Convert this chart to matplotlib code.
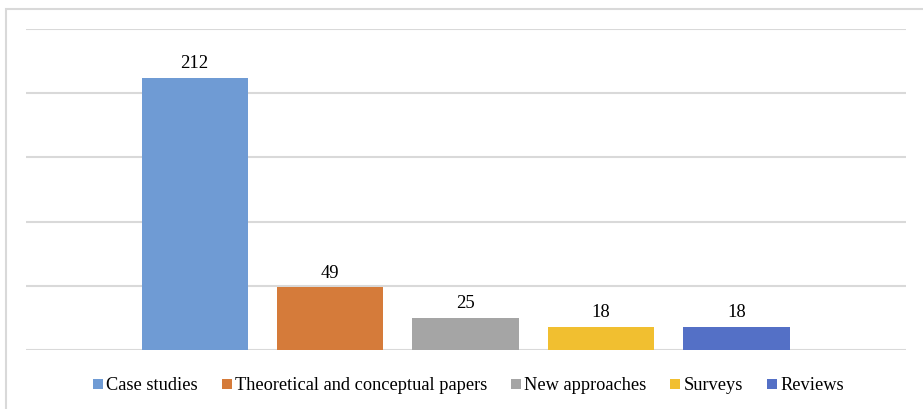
import matplotlib
matplotlib.use("Agg")
import matplotlib.pyplot as plt
from matplotlib.patches import Rectangle, Patch

categories = ["Case studies", "Theoretical and conceptual papers", "New approaches", "Surveys", "Reviews"]
counts = [212, 49, 25, 18, 18]
colors = ["#6F9BD4", "#D57B3A", "#A5A5A5", "#F1BF30", "#5470C6"]
y_ticks = [0, 50, 100, 150, 200, 250]

plt.rcParams["font.family"] = ["Liberation Serif", "DejaVu Serif"]

W, H = 923, 409
fig = plt.figure(figsize=(W / 100, H / 100), dpi=100)
ax = fig.add_axes([26 / W, (H - 350) / H, (906 - 26) / W, (350 - 29) / H])

x = list(range(len(categories)))
ax.bar(x, counts, width=0.785, color=colors, zorder=3)
for xi, v in zip(x, counts):
    ax.annotate(str(v), (xi, v), xytext=(0, 4), textcoords="offset points",
                ha="center", va="bottom", fontsize=13.4, color="#000000")

ax.set_xlim(-1.245, 5.25)
ax.set_ylim(0, 250)
ax.set_yticks(y_ticks)
ax.yaxis.grid(True, color="#D9D9D9", linewidth=1.5, zorder=0)
ax.set_xticks([])
ax.tick_params(axis="y", length=0, labelleft=False)
for s in ax.spines.values():
    s.set_visible(False)

handles = [Patch(facecolor=c, edgecolor="none") for c in colors]
fig.legend(handles, categories, loc="center", bbox_to_anchor=(468.5 / W, 1 - 386 / H),
           ncol=5, frameon=False, fontsize=13.2, handlelength=0.54, handleheight=0.54,
           handletextpad=0.18, columnspacing=1.3)

fig.patches.append(Rectangle((6 / W, -0.1), 1.1, 1 - 9 / H + 0.1, transform=fig.transFigure,
                             fill=False, edgecolor="#D9D9D9", linewidth=1.5))

fig.savefig("out.png", dpi=100)
